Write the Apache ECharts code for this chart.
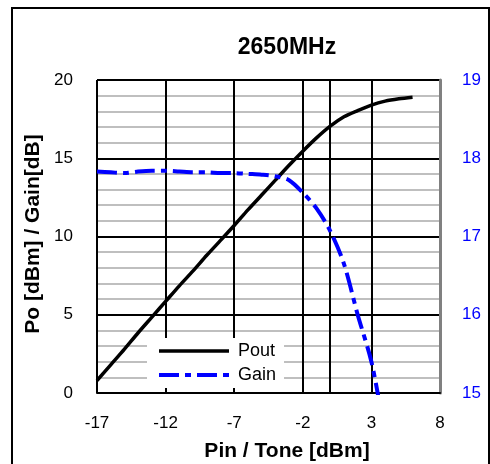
<!DOCTYPE html>
<html>
<head>
<meta charset="utf-8">
<script src="https://cdn.jsdelivr.net/npm/echarts@6/dist/echarts.min.js"></script>
<style>
html,body{margin:0;padding:0;background:#fff;}
#chart{width:490px;height:464px;}
</style>
</head>
<body>
<div id="chart"></div>
<script>
// Data
var pinValues = [-17,-16,-15,-14,-13,-12,-11,-10,-9,-8,-7,-6,-5,-4,-3,-2,-1,0,1,2,3,4,5,6];
var poutValues = [0.8,1.8,2.8,3.85,4.85,5.85,6.85,7.8,8.8,9.75,10.7,11.7,12.65,13.6,14.55,15.45,16.3,17.05,17.65,18.05,18.4,18.65,18.8,18.9];
var gainValues = [17.83,17.82,17.81,17.83,17.84,17.84,17.83,17.82,17.82,17.81,17.81,17.80,17.79,17.77,17.72,17.56,17.36,17.07,16.65,16.0,15.4,14.5,13.8,12.9];
var leftTicks = {min:0, max:20, interval:5};
var rightTicks = {min:15, max:19, interval:1};
var xTicks = {min:-17, max:8, interval:5};
var titleText = '2650MHz';
var xName = 'Pin / Tone [dBm]';
var yName = 'Po [dBm] / Gain[dB]';

var FONT = 'Liberation Sans';
function pairs(xs, ys){ return xs.map(function(x,i){ return [x, ys[i]]; }); }

var chart = echarts.init(document.getElementById('chart'), null, {renderer:'canvas'});
chart.setOption({
  animation:false,
  backgroundColor:'#fff',
  title:{text:titleText, left:282, top:31, textAlign:'center',
    textStyle:{fontFamily:FONT, fontWeight:'bold', fontSize:23, color:'#000'}},
  grid:{left:97, right:50, top:80, bottom:71},
  legend:{
    orient:'vertical', left:147, top:338,
    padding:[4,8,4,10], itemGap:6, itemWidth:70, itemHeight:2,
    backgroundColor:'#fff',
    itemStyle:{opacity:0},
    textStyle:{fontFamily:FONT, fontSize:18, color:'#000', padding:[0,0,0,4]},
    data:[
      {name:'Pout', lineStyle:{width:3.5}},
      {name:'Gain', lineStyle:{width:4}}
    ]
  },
  xAxis:{
    type:'value', min:xTicks.min, max:xTicks.max, interval:xTicks.interval,
    axisLine:{show:true, onZero:false, lineStyle:{color:'#000', width:2}},
    axisTick:{show:false},
    axisLabel:{margin:22, fontFamily:FONT, fontSize:17, color:'#000'},
    splitLine:{show:true, lineStyle:{color:'#000', width:2}}
  },
  yAxis:[{
    type:'value', min:leftTicks.min, max:leftTicks.max, interval:leftTicks.interval,
    axisLine:{show:true, lineStyle:{color:'#000', width:2}},
    axisTick:{show:false},
    axisLabel:{margin:24, fontFamily:FONT, fontSize:17, color:'#000'},
    splitLine:{show:true, lineStyle:{color:'#000', width:2}},
    minorTick:{show:false, splitNumber:5},
    minorSplitLine:{show:true, lineStyle:{color:'#bfbfbf', width:2}}
  },{
    type:'value', position:'right', min:rightTicks.min, max:rightTicks.max, interval:rightTicks.interval,
    axisLine:{show:true, lineStyle:{color:'#808080', width:3}},
    axisTick:{show:false},
    axisLabel:{margin:22, fontFamily:FONT, fontSize:17, color:'#0000ff'},
    splitLine:{show:false}
  }],
  series:[{
    name:'Pout', type:'line', yAxisIndex:0, symbol:'none', smooth:0.3,
    data:pairs(pinValues, poutValues), z:3,
    lineStyle:{color:'#000', width:3.5}, itemStyle:{color:'#000'}
  },{
    name:'Gain', type:'line', yAxisIndex:1, symbol:'none', smooth:0.3, clip:true,
    data:pairs(pinValues, gainValues), z:3,
    lineStyle:{color:'#0000ff', width:4, type:[20,6,6,6]}, itemStyle:{color:'#0000ff'}
  }],
  graphic:[
    {type:'rect', shape:{x:12, y:8, width:477, height:462}, style:{fill:null, stroke:'#000', lineWidth:2}, silent:true},
    {type:'text', x:287, y:451, style:{text:xName, fontFamily:FONT, fontWeight:'bold', fontSize:21, fill:'#000', align:'center', verticalAlign:'middle'}},
    {type:'text', x:33, y:234, rotation:Math.PI/2, style:{text:yName, fontFamily:FONT, fontWeight:'bold', fontSize:21, fill:'#000', align:'center', verticalAlign:'middle'}}
  ]
});
</script>
</body>
</html>
